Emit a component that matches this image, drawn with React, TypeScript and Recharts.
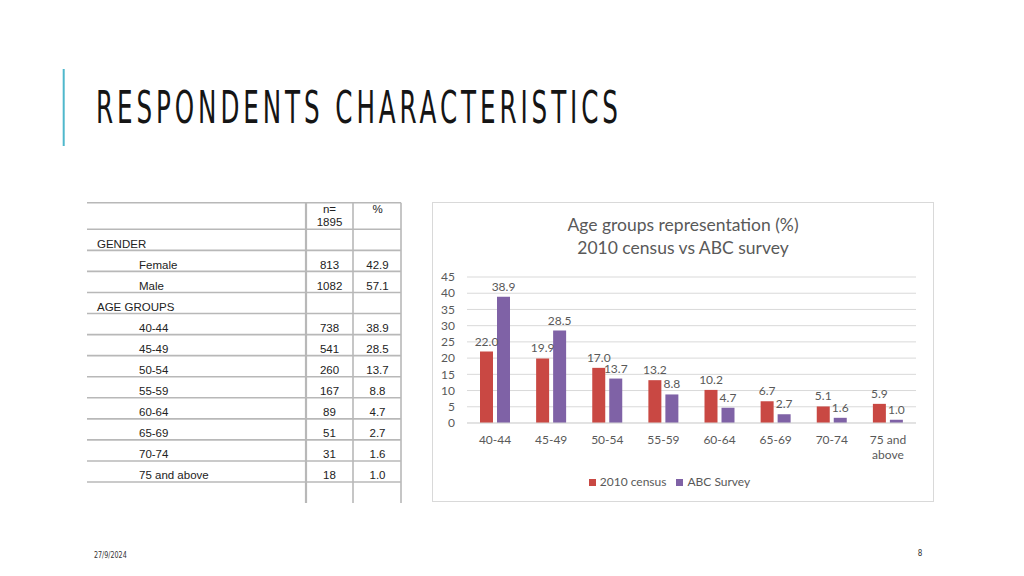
import React from "react";
import { BarChart, Bar, XAxis, YAxis, CartesianGrid, Legend, LabelList, Text } from "recharts";

// chart data
const ageGroups = ["40-44", "45-49", "50-54", "55-59", "60-64", "65-69", "70-74", "75 and above"];
const censusPct = [22.0, 19.9, 17.0, 13.2, 10.2, 6.7, 5.1, 5.9];
const surveyPct = [38.9, 28.5, 13.7, 8.8, 4.7, 2.7, 1.6, 1.0];
const yTicks = [0, 5, 10, 15, 20, 25, 30, 35, 40, 45];

// table data
const totalN = 1895;
const genderLabels = ["Female", "Male"];
const genderN = [813, 1082];
const genderPct = [42.9, 57.1];
const ageN = [738, 541, 260, 167, 89, 51, 31, 18];

const chartData = ageGroups.map((g, i) => ({ group: g, census: censusPct[i], survey: surveyPct[i] }));

const tableRows = [
  { label: "GENDER", head: true },
  ...genderLabels.map((l, i) => ({ label: l, n: genderN[i], pct: genderPct[i] })),
  { label: "AGE GROUPS", head: true },
  ...ageGroups.map((l, i) => ({ label: l, n: ageN[i], pct: surveyPct[i] })),
];

const GRAY = "#595959";
const FONT = "Lato, 'Open Sans', sans-serif";
const RED = "#c94843";
const PURPLE = "#7f62a6";
const TITLE_SCALE = 0.56;

const AgeTick = (props: any) => {
  const { x, y, payload } = props;
  return (
    <Text x={x} y={y + 4} width={48} textAnchor="middle" verticalAnchor="start" fontSize={12} lineHeight={15} fill={GRAY} fontFamily={FONT}>
      {payload.value}
    </Text>
  );
};

const Table = () => {
  const top = 202.7;
  const headBottom = 229.3;
  const rowH = 21.06;
  const lines = tableRows.map((_, i) => headBottom + (i + 1) * rowH);
  const stroke = "#b8b8b8";
  return (
    <svg width={1024} height={576} style={{ position: "absolute", left: 0, top: 0 }}>
      <g stroke={stroke} strokeWidth={1.6}>
        <line x1={87} x2={401} y1={top} y2={top} />
        <line x1={87} x2={401} y1={headBottom} y2={headBottom} />
        {lines.map((y, i) => (
          <line key={i} x1={87} x2={401} y1={y} y2={y} />
        ))}
        <line x1={306} x2={306} y1={top} y2={503} strokeWidth={2.2} />
        <line x1={353} x2={353} y1={top} y2={503} />
        <line x1={401} x2={401} y1={top} y2={503} />
      </g>
      <g fontFamily="'Liberation Sans', Arial, sans-serif" fontSize={11.5} fill="#222">
        <text x={329.5} y={213.3} textAnchor="middle">n=</text>
        <text x={329.5} y={226.3} textAnchor="middle">{totalN}</text>
        <text x={377.5} y={213.3} textAnchor="middle">%</text>
        {tableRows.map((r: any, i) => {
          const base = headBottom + (i + 1) * rowH - 2.7;
          return (
            <g key={r.label}>
              <text x={r.head ? 97 : 139} y={base}>{r.label}</text>
              {!r.head && (
                <>
                  <text x={329.5} y={base} textAnchor="middle">{r.n}</text>
                  <text x={377.5} y={base} textAnchor="middle">{r.pct.toFixed(1)}</text>
                </>
              )}
            </g>
          );
        })}
      </g>
    </svg>
  );
};

export default function App() {
  return (
    <div style={{ position: "absolute", left: 0, top: 0, width: 1024, height: 576, background: "#fff", overflow: "hidden" }}>
      <svg width={1024} height={576} style={{ position: "absolute", left: 0, top: 0 }}>
        <line x1={63.7} x2={63.7} y1={69} y2={146} stroke="#4fb8cc" strokeWidth={2} />
        <text
          transform={`translate(96,123.3) scale(${TITLE_SCALE},1)`}
          x={0}
          y={0}
          fontSize={44}
          fontFamily="'DejaVu Sans', sans-serif"
          fill="#151515"
          textLength={522 / TITLE_SCALE}
          lengthAdjust="spacing"
        >
          RESPONDENTS CHARACTERISTICS
        </text>
        <text x={94} y={558.3} fontSize={8} fontFamily="'DejaVu Sans Condensed', 'DejaVu Sans', sans-serif" fill="#333" textLength={32.7} lengthAdjust="spacingAndGlyphs">
          27/9/2024
        </text>
        <text x={920} y={556} fontSize={8} fontFamily="'DejaVu Sans Condensed', 'DejaVu Sans', sans-serif" fill="#333" textAnchor="middle">
          8
        </text>
      </svg>
      <Table />
      <div style={{ position: "absolute", left: 432, top: 202, width: 502, height: 300, border: "1px solid #d9d9d9", boxSizing: "border-box" }}>
        <div style={{ position: "absolute", left: 0, top: 11, width: 500, textAlign: "center", fontFamily: FONT, fontSize: 17.5, lineHeight: "22.6px", color: GRAY }}>
          Age groups representation (%)
          <br />
          2010 census vs ABC survey
        </div>
        <BarChart width={500} height={298} data={chartData} margin={{ top: 74, right: 17, left: 0, bottom: 11 }} barSize={13} barGap={4}>
          <CartesianGrid vertical={false} stroke="#d9d9d9" />
          <XAxis dataKey="group" interval={0} tick={<AgeTick />} tickLine={false} axisLine={{ stroke: "#d9d9d9" }} height={51} />
          <YAxis domain={[0, 45]} ticks={yTicks} interval={0} axisLine={false} tickLine={false} width={34} tickMargin={6} tick={{ fontSize: 12, fill: GRAY, fontFamily: FONT }} />
          <Legend
            verticalAlign="bottom"
            iconType="square"
            iconSize={7}
            wrapperStyle={{ fontFamily: FONT, fontSize: 12, lineHeight: "16px" }}
            formatter={(value: any) => <span style={{ color: GRAY }}>{value}</span>}
          />
          <Bar dataKey="census" name="2010 census" fill={RED} isAnimationActive={false}>
            <LabelList dataKey="census" position="top" offset={6} fill={GRAY} fontSize={12} fontFamily={FONT} formatter={(v: any) => Number(v).toFixed(1)} />
          </Bar>
          <Bar dataKey="survey" name="ABC Survey" fill={PURPLE} isAnimationActive={false}>
            <LabelList dataKey="survey" position="top" offset={6} fill={GRAY} fontSize={12} fontFamily={FONT} formatter={(v: any) => Number(v).toFixed(1)} />
          </Bar>
        </BarChart>
      </div>
    </div>
  );
}
